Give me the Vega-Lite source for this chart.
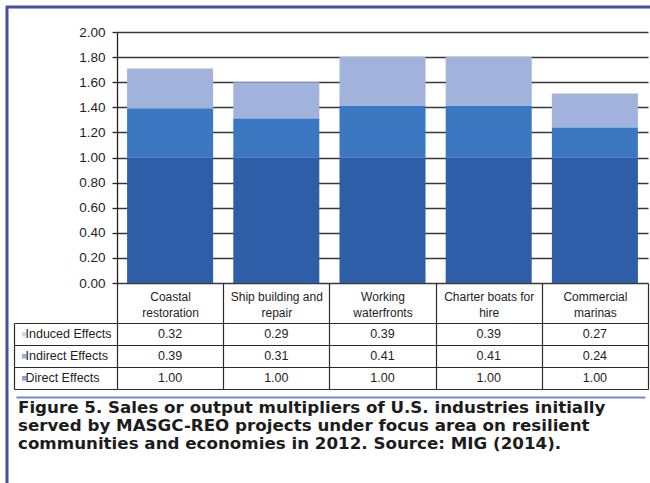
{
  "$schema": "https://vega.github.io/schema/vega-lite/v6.json",
  "width": 653,
  "height": 486,
  "autosize": {"type": "none"},
  "padding": {"left": 7, "top": 7, "right": -10, "bottom": -10},
  "background": "white",
  "datasets": {
    "mult": [
      {"industry": "Coastal restoration", "effect": "Induced Effects", "multiplier": 0.32},
      {"industry": "Coastal restoration", "effect": "Indirect Effects", "multiplier": 0.39},
      {"industry": "Coastal restoration", "effect": "Direct Effects", "multiplier": 1.00},
      {"industry": "Ship building and repair", "effect": "Induced Effects", "multiplier": 0.29},
      {"industry": "Ship building and repair", "effect": "Indirect Effects", "multiplier": 0.31},
      {"industry": "Ship building and repair", "effect": "Direct Effects", "multiplier": 1.00},
      {"industry": "Working waterfronts", "effect": "Induced Effects", "multiplier": 0.39},
      {"industry": "Working waterfronts", "effect": "Indirect Effects", "multiplier": 0.41},
      {"industry": "Working waterfronts", "effect": "Direct Effects", "multiplier": 1.00},
      {"industry": "Charter boats for hire", "effect": "Induced Effects", "multiplier": 0.39},
      {"industry": "Charter boats for hire", "effect": "Indirect Effects", "multiplier": 0.41},
      {"industry": "Charter boats for hire", "effect": "Direct Effects", "multiplier": 1.00},
      {"industry": "Commercial marinas", "effect": "Induced Effects", "multiplier": 0.27},
      {"industry": "Commercial marinas", "effect": "Indirect Effects", "multiplier": 0.24},
      {"industry": "Commercial marinas", "effect": "Direct Effects", "multiplier": 1.00}
    ]
  },
  "data": {"name": "mult"},
  "config": {
    "view": {"stroke": "#4a4e9f", "strokeWidth": 3},
    "font": "Liberation Sans, Arial, sans-serif"
  },
  "title": {
    "text": [
      "Figure 5. Sales or output multipliers of U.S. industries initially",
      "served by MASGC-REO projects under focus area on resilient",
      "communities and economies in 2012. Source: MIG (2014)."
    ],
    "orient": "bottom",
    "anchor": "start",
    "frame": "group",
    "offset": 0,
    "dx": 11,
    "dy": -93,
    "font": "DejaVu Sans",
    "fontSize": 16.7,
    "fontWeight": "bold",
    "color": "#1c1c1c",
    "lineHeight": 18,
    "baseline": "top"
  },
  "layer": [
    {
      "mark": {"type": "bar"},
      "encoding": {
        "x": {
          "field": "industry", "type": "nominal", "sort": null,
          "scale": {"range": [110, 641], "paddingInner": 0.19, "paddingOuter": 0.095},
          "axis": null
        },
        "y": {
          "field": "multiplier", "type": "quantitative", "stack": "zero",
          "scale": {"domain": [0, 2], "range": [276, 25], "nice": false},
          "axis": {
            "orient": "left", "offset": -110,
            "values": [0, 0.2, 0.4, 0.6, 0.8, 1.0, 1.2, 1.4, 1.6, 1.8, 2.0],
            "format": ".2f",
            "grid": true, "gridColor": "#383838", "gridWidth": 1.5,
            "domainColor": "#222222", "domainWidth": 1.3,
            "tickColor": "#222222", "tickWidth": 1.3, "tickSize": 5,
            "labelPadding": 7, "labelFontSize": 13.5, "labelColor": "#1e1e1e",
            "title": null
          }
        },
        "color": {
          "field": "effect", "type": "nominal",
          "scale": {
            "domain": ["Induced Effects", "Indirect Effects", "Direct Effects"],
            "range": ["#a1b3dc", "#3b78c1", "#2e5ea7"]
          },
          "legend": {
            "orient": "none", "legendX": 11, "legendY": 321,
            "title": null, "symbolType": "square", "symbolSize": 22,
            "symbolOpacity": 0.55, "symbolStrokeWidth": 0,
            "labelFontSize": 12.5, "labelColor": "#1e1e1e",
            "labelOffset": -5, "rowPadding": 9
          }
        },
        "order": {"field": "effect", "sort": "ascending"}
      }
    },
    {
      "mark": {"type": "text", "fontSize": 12.5, "color": "#1e1e1e"},
      "encoding": {
        "x": {
          "field": "industry", "type": "nominal", "sort": null,
          "scale": {"range": [110, 641], "paddingInner": 0, "paddingOuter": 0},
          "axis": {
            "orient": "top", "offset": -316,
            "tickBand": "extent", "tickSize": 40,
            "tickColor": "#2a2a2a", "tickWidth": 1.2,
            "domainColor": "#2a2a2a", "domainWidth": 1.2,
            "grid": true, "gridColor": "#2a2a2a", "gridWidth": 1.2,
            "labelExpr": "[slice(datum.label, 0, lastindexof(datum.label, ' ')), slice(datum.label, lastindexof(datum.label, ' ') + 1)]",
            "labelBaseline": "middle", "labelPadding": -13,
            "labelFontSize": 12, "labelLineHeight": 16,
            "labelColor": "#1e1e1e", "labelAngle": 0, "labelOverlap": false,
            "title": null
          }
        },
        "y": {
          "field": "effect", "type": "nominal",
          "scale": {
            "domain": ["Induced Effects", "Indirect Effects", "Direct Effects"],
            "range": [316, 382], "paddingInner": 0, "paddingOuter": 0
          },
          "axis": {
            "orient": "left", "offset": -7,
            "tickBand": "extent", "tickSize": -103,
            "tickColor": "#2a2a2a", "tickWidth": 1.2,
            "domainColor": "#2a2a2a", "domainWidth": 1.2,
            "grid": true, "gridColor": "#2a2a2a", "gridWidth": 1.2,
            "labels": false, "title": null
          }
        },
        "text": {"field": "multiplier", "type": "quantitative", "format": ".2f"}
      }
    },
    {
      "mark": {"type": "text", "opacity": 0},
      "encoding": {
        "x": {
          "field": "industry", "type": "nominal", "sort": null,
          "scale": {"range": [9, 638]},
          "axis": {
            "orient": "bottom", "offset": -96,
            "domainColor": "#7d87c7", "domainWidth": 2,
            "ticks": false, "labels": false, "grid": false, "title": null
          }
        },
        "text": {"value": ""}
      }
    }
  ],
  "resolve": {"scale": {"x": "independent", "y": "independent"}}
}
